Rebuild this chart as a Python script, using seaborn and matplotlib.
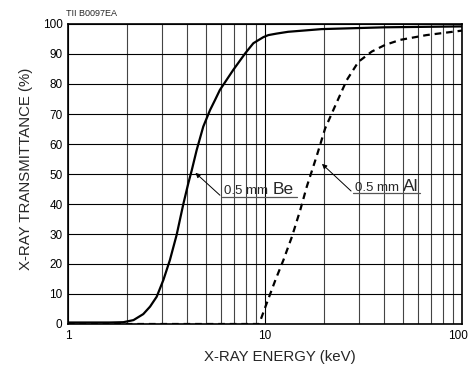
import matplotlib
matplotlib.use("Agg")
import matplotlib.pyplot as plt
import matplotlib.transforms as mtransforms
import seaborn as sns
import pandas as pd
import numpy as np
from matplotlib.ticker import LogLocator, NullFormatter, FixedLocator

# Data
be_energy = [1.0, 1.3, 1.63, 1.91, 2.15, 2.41, 2.61, 2.82, 3.05, 3.29, 3.56, 3.85, 4.08, 4.25,
             4.5, 4.86, 5.26, 5.58, 5.9, 6.9, 7.93, 8.73, 9.8, 10.4, 11.45, 13.1, 19.4, 40.6, 100.0]
be_trans = [0.5, 0.5, 0.5, 0.6, 1.3, 3.3, 5.8, 9.1, 14.7, 21.3, 29.7, 40.0, 46.9, 51.3,
            58.0, 65.8, 71.3, 74.7, 78.0, 84.7, 90.2, 93.6, 95.6, 96.3, 96.8, 97.4, 98.3, 98.9, 99.2]
al_energy = [1.0, 5.0, 9.3, 9.43, 10.2, 11.3, 12.4, 13.7, 15.1, 16.3, 18.3, 20.2, 22.6, 26.0,
             29.8, 34.8, 40.6, 48.5, 66.0, 100.0]
al_trans = [0.0, 0.0, 0.0, 0.8, 6.9, 14.7, 21.3, 29.1, 38.0, 45.8, 56.0, 65.2, 72.4, 81.3,
            87.4, 90.8, 93.0, 94.7, 96.3, 97.8]
y_ticks = [0, 10, 20, 30, 40, 50, 60, 70, 80, 90, 100]
x_ticks = [1, 10, 100]
x_ticklabels = ["1", "10", "100"]

sns.set_theme(style="white")
plt.rcParams["font.family"] = ["Liberation Sans", "DejaVu Sans"]

df = pd.concat([
    pd.DataFrame({"energy": be_energy, "trans": be_trans, "filter": "Be"}),
    pd.DataFrame({"energy": al_energy, "trans": al_trans, "filter": "Al"}),
])

fig = plt.figure(figsize=(4.7, 3.7), dpi=100)
ax = fig.add_axes([68/470, 1-324/370, (462-68)/470, (324-24)/370])

ax.set_xscale("log")
ax.set_xlim(1, 100)
ax.set_ylim(0, 100)

# grid
ax.xaxis.set_major_locator(FixedLocator(x_ticks))
ax.xaxis.set_minor_locator(LogLocator(base=10, subs=np.arange(2, 10)))
ax.xaxis.set_minor_formatter(NullFormatter())
ax.set_xticks(x_ticks)
ax.set_xticklabels(x_ticklabels)
ax.set_yticks(y_ticks)
ax.grid(which="major", axis="both", color="black", linewidth=0.8)
ax.grid(which="minor", axis="x", color="#444444", linewidth=0.8)
ax.set_axisbelow(True)
ax.tick_params(which="both", length=0, labelsize=8.5, colors="black")
ax.tick_params(axis="y", pad=4)
ax.tick_params(axis="x", pad=4)

# keep the last x tick label inside the canvas
last = ax.get_xticklabels()[-1]
last.set_transform(last.get_transform() + mtransforms.ScaledTranslation(-4/100, 0, fig.dpi_scale_trans))

sns.lineplot(data=df[df["filter"] == "Be"], x="energy", y="trans", ax=ax,
             color="black", linewidth=1.6, legend=False, sort=False)
sns.lineplot(data=df[df["filter"] == "Al"], x="energy", y="trans", ax=ax,
             color="black", linewidth=1.6, linestyle=(0, (3, 2.2)), legend=False, sort=False)

for s in ax.spines.values():
    s.set_color("black")
    s.set_linewidth(1.2)

ax.set_xlabel("X-RAY ENERGY (keV)", fontsize=10.8)
ax.set_ylabel("X-RAY TRANSMITTANCE (%)", fontsize=10.8)
ax.xaxis.set_label_coords(0.538, -0.085)
ax.yaxis.set_label_coords(-0.09, 0.517)

# annotations
ax.annotate("", xy=(4.33, 51), xytext=(6.05, 42.3),
            arrowprops=dict(arrowstyle="-|>", color="black", lw=0.7, mutation_scale=7))
ax.plot([6.05, 14.5], [42.3, 42.3], color="#555555", lw=0.9)
ax.text(6.19, 43.3, "0.5 mm", fontsize=9.5, ha="left", va="baseline")
ax.text(10.99, 43.3, "Be", fontsize=12.5, ha="left", va="baseline")

ax.annotate("", xy=(19.0, 54), xytext=(28.0, 43.7),
            arrowprops=dict(arrowstyle="-|>", color="black", lw=0.7, mutation_scale=7))
ax.plot([28.0, 61.2], [43.7, 43.7], color="#555555", lw=0.9)
ax.text(28.5, 44.4, "0.5 mm", fontsize=9.5, ha="left", va="baseline")
ax.text(50.1, 44.4, "Al", fontsize=12.5, ha="left", va="baseline")

fig.text(66/470, 1-14/370, "TII B0097EA", fontsize=6.5, ha="left", va="center")

fig.savefig("out.png", dpi=100)
